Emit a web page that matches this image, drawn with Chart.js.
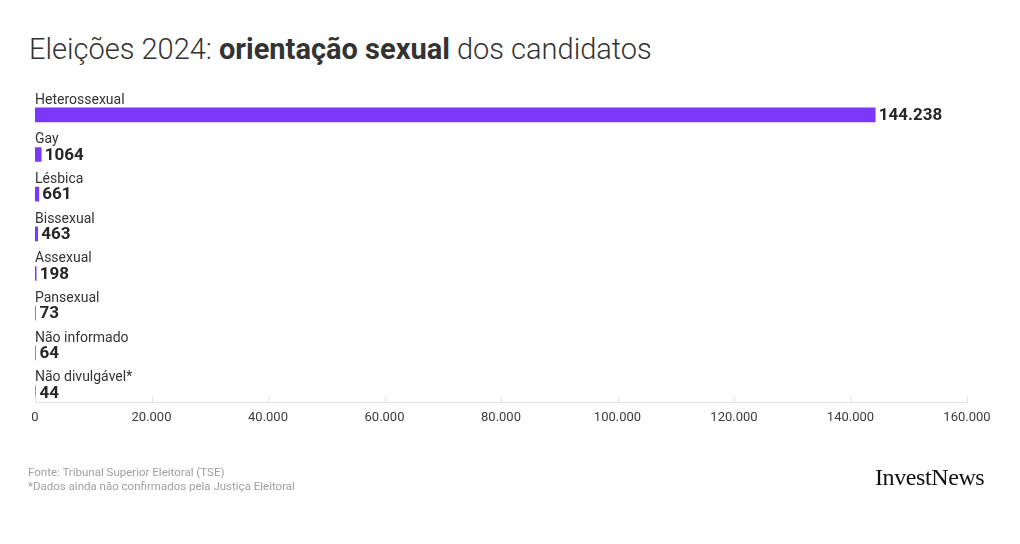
<!DOCTYPE html>
<html lang="pt-BR">
<head>
<meta charset="UTF-8">
<title>Eleições 2024: orientação sexual dos candidatos</title>
<script src="https://cdn.jsdelivr.net/npm/chart.js@4.4.1/dist/chart.umd.min.js"></script>
<style>
  html, body { margin: 0; padding: 0; background: #fff; }
  #wrap { position: relative; width: 1020px; height: 544px; overflow: hidden; }
  #title { position: absolute; left: 29px; top: 32px; margin: 0; font: 300 29px Roboto, sans-serif; color: #333; white-space: nowrap; }
  #title b { font-weight: 700; }
  #chart { position: absolute; left: 0; top: 0; }
  #foot { position: absolute; left: 28px; top: 465px; font: 11.5px Roboto, sans-serif; color: #a0a0a0; line-height: 14px; }
  #logo { position: absolute; left: 875px; top: 464px; font: 24px "Liberation Serif", serif; letter-spacing: -0.4px; color: #111; }
</style>
</head>
<body>
<div id="wrap">
  <h1 id="title">Eleições 2024: <b>orientação sexual</b> dos candidatos</h1>
  <canvas id="chart" width="1020" height="544"></canvas>
  <div id="foot">Fonte: Tribunal Superior Eleitoral (TSE)<br>*Dados ainda não confirmados pela Justiça Eleitoral</div>
  <div id="logo">InvestNews</div>
</div>
<script>
  const categories = ['Heterossexual', 'Gay', 'Lésbica', 'Bissexual', 'Assexual', 'Pansexual', 'Não informado', 'Não divulgável*'];
  const candidates = [144238, 1064, 661, 463, 198, 73, 64, 44];
  const xTicks = [0, 20000, 40000, 60000, 80000, 100000, 120000, 140000, 160000];

  // 20000 -> "20.000"
  function fmt(n) {
    return String(n).replace(/\B(?=(\d{3})+(?!\d))/g, '.');
  }
  // the source writes only the big number with a separator
  function valueLabel(n) {
    return n >= 10000 ? fmt(n) : String(n);
  }

  const rowLabels = {
    id: 'rowLabels',
    afterDatasetsDraw(chart) {
      const ctx = chart.ctx;
      const meta = chart.getDatasetMeta(0);
      const left = chart.scales.x.getPixelForValue(0);
      ctx.save();
      meta.data.forEach((bar, i) => {
        ctx.fillStyle = '#333';
        ctx.font = '14px Roboto, sans-serif';
        ctx.textAlign = 'left';
        ctx.textBaseline = 'alphabetic';
        ctx.fillText(categories[i], left, bar.y - 11);

        ctx.fillStyle = '#262626';
        ctx.font = 'bold 17px Roboto, sans-serif';
        ctx.textBaseline = 'middle';
        ctx.fillText(valueLabel(candidates[i]), Math.max(bar.x, left + 1) + 3.5, bar.y + 1);
      });
      ctx.restore();
    }
  };

  // small tick marks pointing up from the axis line
  const upTicks = {
    id: 'upTicks',
    afterDraw(chart) {
      const x = chart.scales.x;
      const ctx = chart.ctx;
      ctx.save();
      ctx.strokeStyle = '#e3e3e3';
      ctx.lineWidth = 1;
      x.ticks.forEach((t, i) => {
        const px = Math.round(x.getPixelForTick(i)) + 0.5;
        ctx.beginPath();
        ctx.moveTo(px, x.top - 6);
        ctx.lineTo(px, x.top);
        ctx.stroke();
      });
      ctx.restore();
    }
  };

  new Chart(document.getElementById('chart'), {
    type: 'bar',
    data: {
      datasets: [{
        data: candidates.map((v, i) => ({ x: v, y: i })),
        backgroundColor: '#7b38fb',
        barThickness: 14,
        borderWidth: 0
      }]
    },
    options: {
      indexAxis: 'y',
      responsive: false,
      animation: false,
      layout: { padding: { left: 35, right: 53, top: 95, bottom: 110 } },
      plugins: { legend: { display: false }, tooltip: { enabled: false } },
      scales: {
        x: {
          type: 'linear',
          min: 0,
          max: 160000,
          afterBuildTicks: (s) => { s.ticks = xTicks.map(v => ({ value: v })); },
          grid: { display: false, drawTicks: false },
          border: { display: true, color: '#e3e3e3' },
          ticks: {
            padding: 8,
            color: '#3c3c3c',
            font: { family: 'Roboto', size: 13 },
            callback: (v) => fmt(v)
          }
        },
        y: {
          type: 'linear',
          reverse: true,
          offset: false,
          min: -0.5,
          max: 7.25,
          display: false
        }
      }
    },
    plugins: [rowLabels, upTicks]
  });
</script>
</body>
</html>
